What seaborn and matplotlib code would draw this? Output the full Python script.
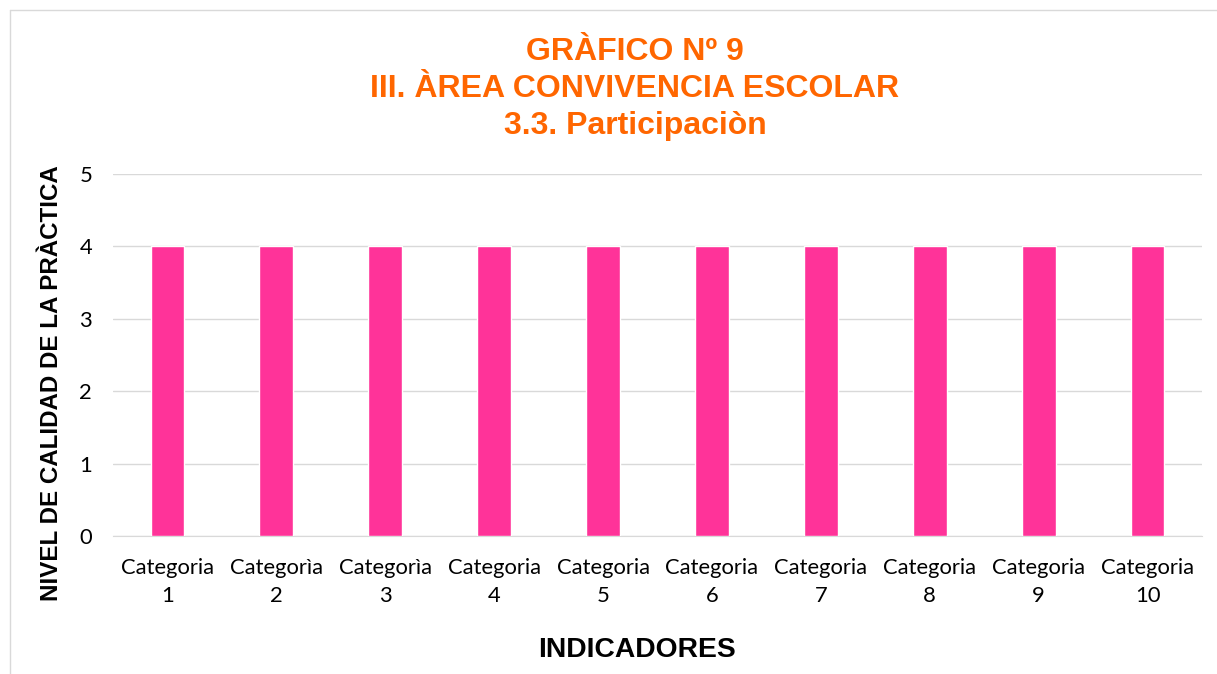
import matplotlib.pyplot as plt
import seaborn as sns
import pandas as pd
from matplotlib.lines import Line2D
from matplotlib import font_manager

# data
categorias = ["Categoria\n1", "Categorìa\n2", "Categorìa\n3", "Categoria\n4", "Categoria\n5",
              "Categoria\n6", "Categoria\n7", "Categoria\n8", "Categoria\n9", "Categoria\n10"]
valores = [4, 4, 4, 4, 4, 4, 4, 4, 4, 4]
y_ticks = [0, 1, 2, 3, 4, 5]

df = pd.DataFrame({"categoria": categorias, "valor": valores})

sns.set_style("white")
plt.rcParams['font.family'] = ['Liberation Sans', 'DejaVu Sans']
plt.rcParams['text.color'] = 'black'

# narrow font for y label if available
try:
    font_manager.findfont("Liberation Sans Narrow", fallback_to_default=False)
    ylab_font, ylab_size = ["Liberation Sans Narrow", "Liberation Sans"], 21
except Exception:
    ylab_font, ylab_size = ["Liberation Sans", "DejaVu Sans"], 17.4

fig = plt.figure(figsize=(12.17, 6.74), dpi=100)
ax = fig.add_axes([113/1217, 1 - 536/674, (1202 - 113)/1217, (536 - 174)/674])

sns.barplot(data=df, x="categoria", y="valor", color="#FF3399", width=0.31,
            saturation=1, ax=ax, zorder=3)

ax.set_ylim(0, 5)
ax.set_xlim(-0.5, 9.5)
ax.set_yticks(y_ticks)
ax.grid(axis="y", color="#D9D9D9", linewidth=1, zorder=0)
for s in ["top", "right", "left"]:
    ax.spines[s].set_visible(False)
ax.spines["bottom"].set_color("#D9D9D9")
ax.tick_params(axis="both", length=0, labelsize=15.8, colors="#000000")
ax.tick_params(axis="y", pad=15)
ax.tick_params(axis="x", pad=16)
for lbl in ax.get_xticklabels() + ax.get_yticklabels():
    lbl.set_family(["Lato", "DejaVu Sans"])
for lbl in ax.get_xticklabels():
    lbl.set_linespacing(1.5)

ax.set_xlabel("")
ax.set_ylabel("")
fig.text(637/1217, 1 - 650/674, "INDICADORES", ha="center", va="center",
         fontsize=20.3, fontweight="bold", color="black")
fig.text(52/1217, 1 - 383/674, "NIVEL DE CALIDAD DE LA PRÀCTICA", ha="center", va="center",
         rotation=90, fontsize=ylab_size, fontweight="bold", family=ylab_font, color="black")

fig.text(635/1217, 1 - 89/674, "GRÀFICO Nº 9\nIII. ÀREA CONVIVENCIA ESCOLAR\n3.3. Participaciòn",
         ha="center", va="center", fontsize=23, fontweight="bold", color="#FF6600",
         linespacing=1.3)

# chart border
fig.add_artist(Line2D([10/1217, 10/1217], [0, 1 - 10/674], color="#D9D9D9", linewidth=1))
fig.add_artist(Line2D([10/1217, 1], [1 - 10/674, 1 - 10/674], color="#D9D9D9", linewidth=1))

fig.savefig("out.png", dpi=100)
